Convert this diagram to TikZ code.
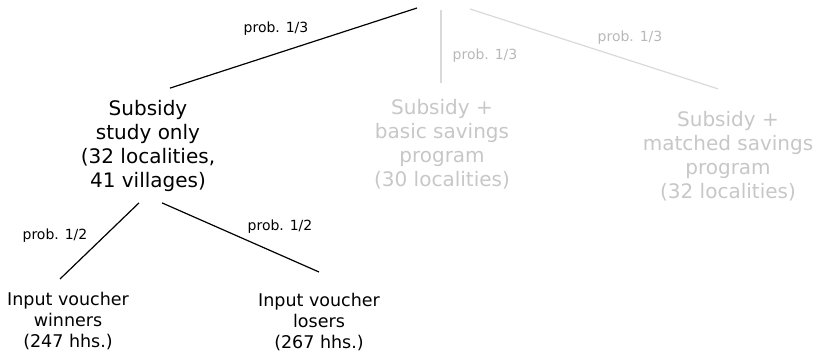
\documentclass[tikz,border=0pt]{standalone}
\usepackage{fontspec}
\setmainfont{DejaVu Sans}
\usetikzlibrary{calc}
\definecolor{faded}{gray}{0.78}
\definecolor{fadedlabel}{gray}{0.72}
\definecolor{fadedline}{gray}{0.85}
\tikzset{
  branch/.style={align=center,inner sep=0pt,font=\fontsize{20}{24}\selectfont},
  leaf/.style={align=center,inner sep=0pt,font=\fontsize{17.5}{21}\selectfont},
  prob/.style={inner sep=0pt,font=\fontsize{14}{16}\selectfont},
  edge/.style={black,line width=1.2pt},
  greyedge/.style={fadedline,line width=1.2pt}
}
\begin{document}
\begin{tikzpicture}[x=1pt,y=-1pt]
\useasboundingbox (0,0) rectangle (815,353);
% treatment arms
\node[branch] (only) at (148,146) {Subsidy\\study only\\(32 localities,\\41 villages)};
\node[branch,text=faded] (basic) at (442,144) {Subsidy +\\basic savings\\program\\(30 localities)};
\node[branch,text=faded] (matched) at (728,156) {Subsidy +\\matched savings\\program\\(32 localities)};
% voucher lottery
\node[leaf] (win) at (68,321) {Input voucher\\winners\\(247 hhs.)};
\node[leaf] (lose) at (319,322) {Input voucher\\losers\\(267 hhs.)};
\coordinate (top1) at (417,8);
\coordinate (top2) at (441,10);
\coordinate (top3) at (470,9);
\draw[edge] (top1) -- ($(only.north)+(22,-12)$);
\draw[greyedge] (top2) -- ($(basic.north)+(-1,-16)$);
\draw[greyedge] (top3) -- ($(matched.north)+(-10,-22)$);
\draw[edge] ($(only.south)+(-9,11)$) -- ($(win.north)+(-8,-13)$);
\draw[edge] ($(only.south)+(14,11)$) -- ($(lose.north)+(0,-21)$);
\node[prob] (p1) at (276,29) {prob. 1/3};
\node[prob,text=fadedlabel] (p2) at (485,56) {prob. 1/3};
\node[prob,text=fadedlabel] (p3) at (630,38) {prob. 1/3};
\node[prob] (p4) at (55,236) {prob. 1/2};
\node[prob] (p5) at (280,227) {prob. 1/2};
\end{tikzpicture}
\end{document}
